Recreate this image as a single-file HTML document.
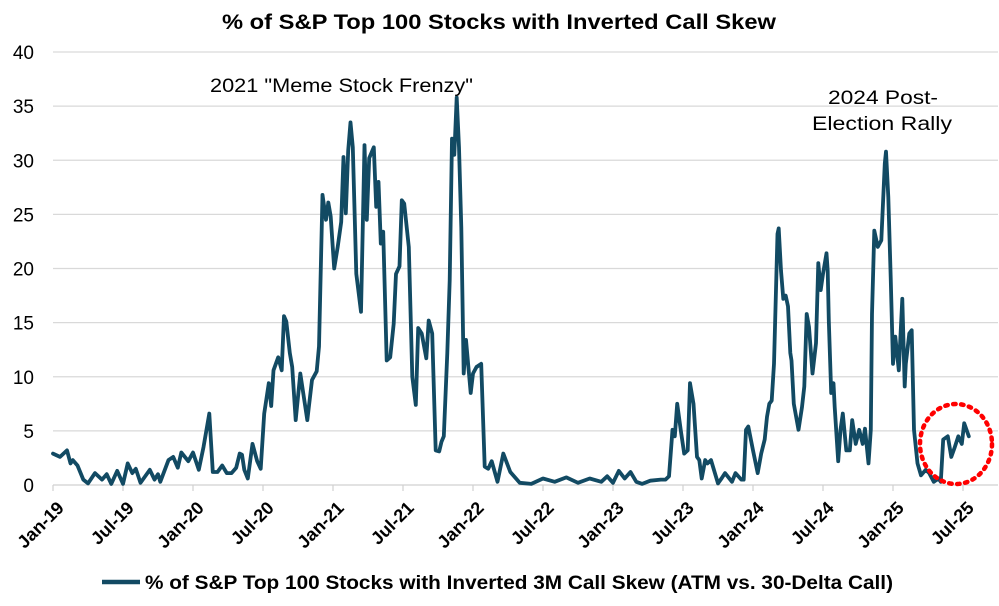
<!DOCTYPE html>
<html><head><meta charset="utf-8"><style>
html,body{margin:0;padding:0;background:#fff;}
svg{display:block;font-family:"Liberation Sans",Arial,sans-serif;}
</style></head><body>
<svg id="chart" width="999" height="606" viewBox="0 0 999 606">
<rect x="0" y="0" width="999" height="606" fill="#fff"/>
<text x="222" y="29" textLength="554" lengthAdjust="spacingAndGlyphs" font-size="21" font-weight="bold" fill="#000">% of S&amp;P Top 100 Stocks with Inverted Call Skew</text>
<g id="grid"></g>
<g id="yticks"></g>
<g id="xticks"></g>
<g id="series"></g>
<text x="210" y="92" textLength="263" lengthAdjust="spacingAndGlyphs" font-size="19" fill="#000">2021 "Meme Stock Frenzy"</text>
<text x="828" y="104" textLength="110" lengthAdjust="spacingAndGlyphs" font-size="19" fill="#000">2024 Post-</text>
<text x="812" y="130" textLength="140" lengthAdjust="spacingAndGlyphs" font-size="19" fill="#000">Election Rally</text>
<ellipse cx="956" cy="444" rx="36" ry="40" fill="none" stroke="#ff0000" stroke-width="4.5" stroke-dasharray="2.5 5.5" stroke-linecap="round"/>
<g>
<line x1="102" y1="582" x2="140" y2="582" stroke="#124a63" stroke-width="4.5"/>
<text x="145" y="589" textLength="748" lengthAdjust="spacingAndGlyphs" font-size="19" font-weight="bold" fill="#000">% of S&amp;P Top 100 Stocks with Inverted 3M Call Skew (ATM vs. 30-Delta Call)</text>
</g>
</svg>
<script>
const yTicks=[0,5,10,15,20,25,30,35,40];
const xLabels=["Jan-19","Jul-19","Jan-20","Jul-20","Jan-21","Jul-21","Jan-22","Jul-22","Jan-23","Jul-23","Jan-24","Jul-24","Jan-25","Jul-25"];
const months=[0,0.6,1.2,1.5,1.7,2.1,2.6,3,3.6,4.2,4.6,5,5.5,6,6.4,6.8,7.1,7.5,8.3,8.7,9,9.2,9.9,10.3,10.7,11,11.6,12,12.5,12.9,13.4,13.7,14.1,14.5,14.9,15.3,15.7,16,16.2,16.4,16.7,17.1,17.5,17.8,18.1,18.5,18.7,18.9,19.3,19.6,19.8,20,20.3,20.5,20.8,21.2,21.8,22.2,22.6,22.8,23.1,23.4,23.6,23.8,24.1,24.4,24.7,24.9,25.1,25.3,25.5,25.7,26,26.4,26.7,26.9,27.1,27.5,27.7,27.9,28.1,28.3,28.6,28.9,29.2,29.4,29.7,29.9,30.1,30.5,30.8,31.1,31.3,31.6,32,32.2,32.5,32.8,33.1,33.3,33.5,33.8,34,34.2,34.4,34.6,34.8,35,35.2,35.4,35.8,36,36.3,36.7,37,37.3,37.6,38.1,38.6,39.2,40,41,42,43,44,45,46,47,47.5,48,48.5,49,49.5,50,50.5,51.2,52.1,52.5,52.8,53.1,53.3,53.5,53.8,54.1,54.4,54.6,54.9,55.2,55.4,55.6,55.9,56.1,56.4,57,57.3,57.6,58.2,58.5,59,59.2,59.4,59.6,60,60.4,60.7,61,61.2,61.4,61.6,61.8,62.1,62.2,62.4,62.6,62.8,63,63.2,63.3,63.5,63.9,64.2,64.4,64.6,64.8,65.1,65.4,65.6,65.8,66,66.3,66.4,66.5,66.7,66.9,67,67.3,67.5,67.7,68,68.3,68.5,68.8,69.1,69.4,69.6,69.9,70.1,70.2,70.4,70.7,71,71.3,71.4,71.6,71.8,72,72.2,72.5,72.8,73,73.1,73.4,73.6,73.8,74.1,74.4,74.8,75.1,75.5,75.9,76.1,76.3,76.7,77,77.3,77.6,77.9,78.1,78.3,78.5];
const values=[2.9,2.6,3.2,2,2.3,1.8,0.5,0.15,1.1,0.5,1,0.1,1.3,0.1,2,1.1,1.5,0.2,1.4,0.5,1,0.3,2.3,2.6,1.6,3,2.2,3,1.4,3.5,6.6,1.2,1.2,1.8,1.1,1.1,1.6,2.9,2.8,1.4,0.6,3.8,2.2,1.5,6.6,9.4,7.3,10.6,11.8,10.6,15.6,15.1,12.2,10.9,6,10.3,6,9.7,10.5,12.8,26.8,24.5,26.1,24.8,20,22,24.3,30.3,25.1,30.9,33.5,31.2,19.5,16,31.4,24.5,30.2,31.2,25.7,28,22.3,23.4,11.5,11.8,14.9,19.5,20.2,26.3,26,22,10,7.4,14.5,14,11.7,15.2,14,3.2,3.1,4,4.5,12.2,18.9,32,30.5,35.8,31.2,23.8,10.3,13.4,8.5,10.3,10.9,11.2,1.7,1.5,2.2,0.3,2.9,1.2,0.2,0.1,0.6,0.3,0.7,0.2,0.6,0.3,0.8,0.2,1.3,0.6,1.2,0.3,0.1,0.4,0.5,0.5,0.8,5.1,4.5,7.5,5.1,2.9,3.2,9.4,7.5,2.6,2.3,0.6,2.3,2,2.3,0.15,0.6,1.1,0.3,1.1,0.5,0.5,5.1,5.4,3.2,1.1,2.9,4.2,6.3,7.5,7.8,11.2,23.2,23.7,19.8,17.2,17.5,16.5,12.2,11.5,7.5,5.1,7.2,9.1,15.8,14.6,10.3,13.1,20.5,18,19.5,21.4,19.8,15.2,8.5,9.4,7.2,2.2,5.1,6.6,3.2,3.2,6,3.8,5.1,3.8,5.2,2,5.1,15.8,23.5,22,22.6,29.7,30.8,26.6,19.2,11.2,13.7,10.6,17.2,9.1,11.2,14,14.3,5.1,2,0.9,1.4,1.1,0.3,0.6,0.3,4.2,4.5,2.6,3.5,4.5,3.8,5.7,5.1,4.5,5.2];

const NS="http://www.w3.org/2000/svg";
const X0=53, PX_PER_MONTH=70/6, Y0=485, PX_PER_UNIT=(485-52)/40, XR=998;
function xScale(m){return X0+m*PX_PER_MONTH;}
function yScale(v){return Y0-v*PX_PER_UNIT;}
function mk(tag,attrs,parent){const e=document.createElementNS(NS,tag);for(const k in attrs)e.setAttribute(k,attrs[k]);parent.appendChild(e);return e;}

const grid=document.getElementById('grid'), yt=document.getElementById('yticks'), xt=document.getElementById('xticks'), ser=document.getElementById('series');
yTicks.forEach(t=>{
  const y=yScale(t);
  const gl=mk('line',{x1:X0,x2:XR,y1:y,y2:y,stroke:t===0?'#d0d0d0':'#d9d9d9','stroke-width':1.2},grid);
  
  
  const tx=mk('text',{x:34,y:y+7,'text-anchor':'end','font-size':19,fill:'#000'},yt);
  tx.textContent=t;
  
  
});
xLabels.forEach((lab,i)=>{
  const x=xScale(i*6);
  const tk=mk('line',{x1:x,x2:x,y1:Y0,y2:Y0+6,stroke:'#d0d0d0','stroke-width':1.2},xt);
  
  
  const ax=x+12, ay=Y0+24;
  const tx=mk('text',{x:ax,y:ay,'text-anchor':'end','font-size':18,'font-weight':'bold',fill:'#000',transform:'rotate(-45 '+ax+' '+ay+')'},xt);
  tx.textContent=lab;
  
  
});
let d='';
months.forEach((m,i)=>{d+=(i?'L':'M')+xScale(m).toFixed(1)+' '+yScale(values[i]).toFixed(1);});
const p=mk('path',{d:d,fill:'none',stroke:'#124a63','stroke-width':3.8,'stroke-linejoin':'round','stroke-linecap':'round'},ser);


</script>
</body></html>
